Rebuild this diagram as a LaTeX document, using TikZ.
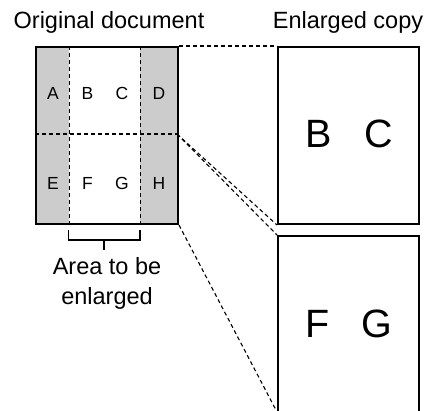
\documentclass[tikz,border=0pt]{standalone}
\usepackage{fontspec}
\setmainfont{Liberation Sans}
\begin{document}
\begin{tikzpicture}[x=1pt,y=-1pt,
  box/.style={draw=black,line width=2pt,inner sep=0pt,anchor=north west},
  guide/.style={draw=black,line width=1.1pt,dash pattern=on 4pt off 3pt},
  title/.style={anchor=base,inner sep=0pt,font=\fontsize{23.5}{28}\selectfont},
  small/.style={anchor=base,inner sep=0pt,font=\fontsize{17.5}{20}\selectfont},
  big/.style={anchor=base,inner sep=0pt,font=\fontsize{39.5}{44}\selectfont}]
\useasboundingbox (0,0) rectangle (425,410);
% gray columns
\fill[black!20] (35,46) rectangle (69,223);
\fill[black!20] (140,46) rectangle (177,223);
\draw[guide,line width=1pt] (69,46) -- (69,223);
\draw[guide,line width=1pt] (140,46) -- (140,223);
\draw[guide,line width=1.2pt] (35,134) -- (177,134);
\node[box,minimum width=142pt,minimum height=177pt] (orig) at (35,46) {};
\node[box,minimum width=141pt,minimum height=177pt] (top) at (277,46) {};
\node[box,minimum width=141pt,minimum height=177pt] (bot) at (277,235) {};
\coordinate (mid) at (177,134);
\coordinate (botcorner) at (277,412);
% connectors
\draw[guide] (orig.north east) -- (top.north west);
\draw[guide] (mid) -- (top.south west);
\draw[guide] (mid) -- (bot.north west);
\draw[guide] (orig.south east) -- (botcorner);
% titles
\node[title] (t1) at (109,28) {Original document};
\node[title] (t2) at (348,28) {Enlarged copy};
% letters
\node[small] (A) at (53,99.5) {A};
\node[small] (B) at (87.5,99.5) {B};
\node[small] (C) at (122,99.5) {C};
\node[small] (D) at (159,99.5) {D};
\node[small] (E) at (53,189.5) {E};
\node[small] (F) at (87.5,189.5) {F};
\node[small] (G) at (122,189.5) {G};
\node[small] (H) at (159,189.5) {H};
\node[big] (BB) at (319,147) {B};
\node[big] (CC) at (379,147) {C};
\node[big] (FF) at (318,337) {F};
\node[big] (GG) at (377,337) {G};
% bracket
\coordinate (bl) at (68.5,230);
\coordinate (br) at (140,230);
\draw[line width=1.1pt] (bl) -- (68.5,240) -- (140,240) -- (br);
\draw[line width=1.1pt] (104,240) -- (104,250);
\node[title] (a1) at (107,274) {Area to be};
\node[title] (a2) at (107,304) {enlarged};
\end{tikzpicture}
\end{document}
